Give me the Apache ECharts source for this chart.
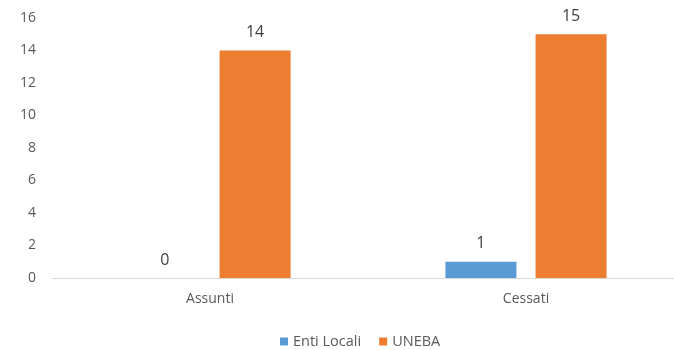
<!DOCTYPE html>
<html>
<head>
<meta charset="utf-8">
<script src="https://cdn.jsdelivr.net/npm/echarts@6/dist/echarts.min.js"></script>
<style>
  html, body { margin: 0; padding: 0; background: #ffffff; overflow: hidden; }
  #chart { width: 684px; height: 350px; }
</style>
</head>
<body>
<div id="chart"></div>
<script>
// Categorie e valori per serie
const categories = ['Assunti', 'Cessati'];
const entiLocali = [0, 1];
const uneba = [14, 15];
const seriesNames = ['Enti Locali', 'UNEBA'];

const FONT = '"Open Sans", "Noto Sans", sans-serif';

const chart = echarts.init(document.getElementById('chart'), null, { renderer: 'canvas' });

const labelStyle = {
  show: true,
  position: 'top',
  distance: 10,
  color: '#404040',
  fontSize: 16,
  fontFamily: FONT
};

chart.setOption({
  animation: false,
  backgroundColor: '#ffffff',
  textStyle: { fontFamily: FONT },
  grid: { left: 52, right: 0, top: 18, height: 260, containLabel: false },
  legend: {
    top: 329,
    left: 275,
    itemWidth: 8,
    itemHeight: 8,
    itemGap: 18,
    icon: 'rect',
    textStyle: { color: '#595959', fontSize: 14.5, fontFamily: FONT },
    data: seriesNames
  },
  xAxis: {
    type: 'category',
    data: categories,
    axisLine: { lineStyle: { color: '#d9d9d9', width: 1 } },
    axisTick: { show: false },
    axisLabel: { color: '#595959', fontSize: 14, margin: 14, fontFamily: FONT }
  },
  yAxis: {
    type: 'value',
    min: 0,
    max: 16,
    interval: 2,
    axisLine: { show: false },
    axisTick: { show: false },
    splitLine: { show: false },
    axisLabel: { color: '#595959', fontSize: 14, margin: 16, fontFamily: FONT }
  },
  series: [
    {
      name: seriesNames[0],
      type: 'bar',
      data: entiLocali,
      barWidth: 71,
      barGap: '27%',
      itemStyle: { color: '#5b9bd5' },
      label: labelStyle
    },
    {
      name: seriesNames[1],
      type: 'bar',
      data: uneba,
      barWidth: 71,
      barGap: '27%',
      itemStyle: { color: '#ed7d31' },
      label: labelStyle
    }
  ]
});
</script>
</body>
</html>
